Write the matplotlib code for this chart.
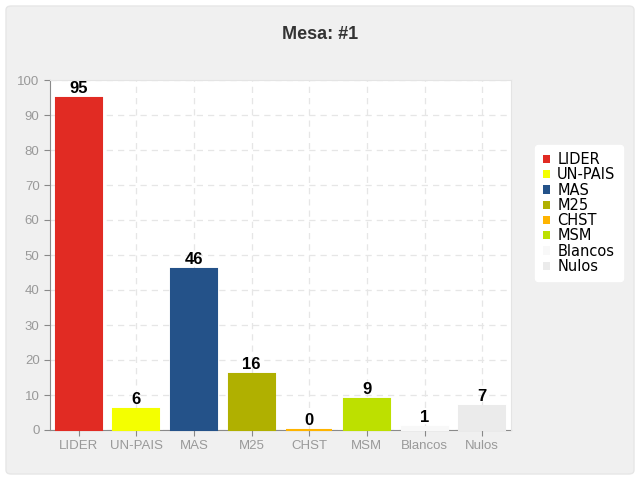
import matplotlib
matplotlib.use("Agg")
import matplotlib.pyplot as plt
from matplotlib.patches import FancyBboxPatch, Patch

categories = ["LIDER", "UN-PAIS", "MAS", "M25", "CHST", "MSM", "Blancos", "Nulos"]
votes = [95, 6, 46, 16, 0, 9, 1, 7]
colors = ["#e12b23", "#f4ff00", "#245289", "#b0b000", "#ffb400", "#bde000", "#f8f8f8", "#ebebeb"]

plt.rcParams["font.family"] = ["Liberation Sans", "DejaVu Sans"]

fig = plt.figure(figsize=(6.4, 4.8), dpi=100)
fig.patch.set_facecolor("white")

# outer rounded panel
panel = FancyBboxPatch((6 / 640, 6 / 480), 628 / 640, 468 / 480,
                       boxstyle="round,pad=0,rounding_size=0.008",
                       transform=fig.transFigure, facecolor="#f0f0f0",
                       edgecolor="#e6e6e6", linewidth=1, zorder=-10)
fig.patches.append(panel)

fig.text(0.5, 0.929, "Mesa: #1", ha="center", va="center",
         fontsize=13, fontweight="bold", color="#333333")

ax = fig.add_axes([50 / 640, 50 / 480, 461 / 640, 350 / 480])
ax.set_facecolor("white")

x = list(range(len(categories)))
bars = ax.bar(x, votes, width=0.8, color=colors, edgecolor=colors,
              linewidth=1.5, zorder=3, clip_on=False)
for xi, v in zip(x, votes):
    ax.text(xi, v + 0.5, str(v), ha="center", va="bottom",
            fontsize=12, fontweight="bold", color="black", zorder=4)

ax.set_xlim(-0.5, len(categories) - 0.5)
ax.set_ylim(0, 100)
ax.set_yticks(range(0, 101, 10))
ax.set_xticks(x)
ax.set_xticklabels(categories)
ax.tick_params(colors="#888888", labelcolor="#999999", labelsize=9.5, length=4)
ax.grid(True, color="#e6e6e6", linestyle=(0, (5, 4)), linewidth=0.9, zorder=0)

for s in ["left", "bottom"]:
    ax.spines[s].set_color("#8a8a8a")
    ax.spines[s].set_zorder(2)
for s in ["top", "right"]:
    ax.spines[s].set_color("#e4e4e4")

handles = [Patch(facecolor=c, edgecolor="none") for c in colors]
leg = fig.legend(handles, categories, loc="center left",
                 bbox_to_anchor=(528 / 640, 1 - 213 / 480), frameon=True,
                 prop={"family": "DejaVu Sans", "size": 10.5},
                 handlelength=0.5, handleheight=0.5,
                 handletextpad=0.5, labelspacing=0.02, borderpad=0.5,
                 fancybox=True)
leg.get_frame().set_facecolor("white")
leg.get_frame().set_edgecolor("white")
leg.get_frame().set_alpha(1)

fig.savefig("out.png", dpi=100, facecolor=fig.get_facecolor())
